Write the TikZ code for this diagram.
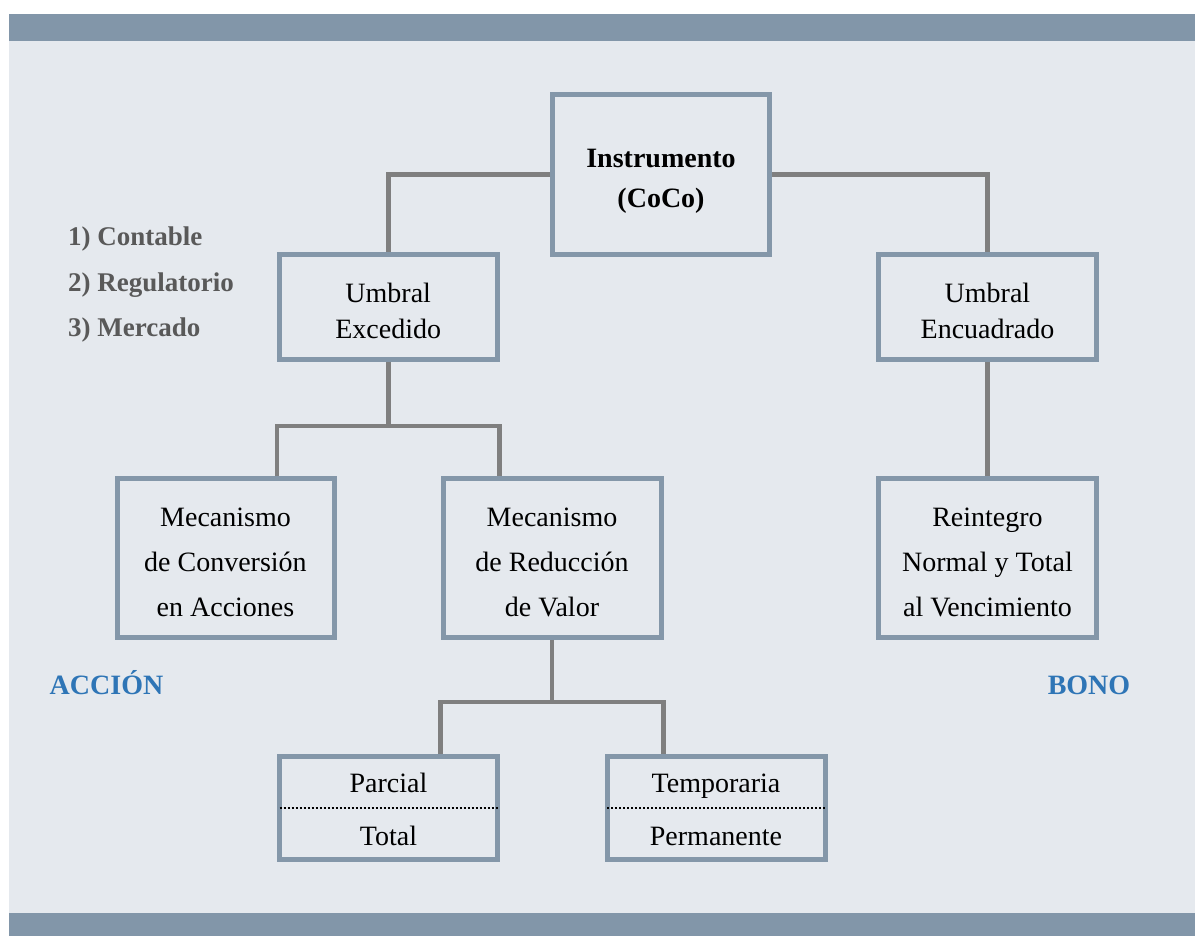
\documentclass[tikz,border=0pt]{standalone}
\usepackage{fontspec}
\setmainfont{Liberation Serif}
\definecolor{bgc}{RGB}{229,233,238}
\definecolor{barc}{RGB}{130,150,169}
\definecolor{borderc}{RGB}{132,151,169}
\definecolor{connc}{RGB}{127,127,127}
\definecolor{bluec}{RGB}{46,117,182}
\definecolor{grayc}{RGB}{89,89,89}
\begin{document}
\begin{tikzpicture}[x=1pt,y=-1pt,
  box/.style={draw=borderc, line width=5pt, fill=bgc, inner sep=0pt},
  boxtext/.style={inner sep=0pt, align=center, font=\fontsize{28}{45}\selectfont},
  conn/.style={draw=connc, line width=4.5pt},
  txt/.style={inner sep=0pt, font=\fontsize{28}{34}\selectfont},
  listlbl/.style={inner sep=0pt, anchor=base west, text=grayc, font=\fontsize{27}{32}\selectfont\bfseries},
  biglbl/.style={inner sep=0pt, anchor=base, text=bluec, font=\fontsize{28}{34}\selectfont\bfseries},
  sep/.style={draw=black, line width=2pt, dash pattern=on 2pt off 2pt}]
\useasboundingbox (0,0) rectangle (1195,936);
\fill[white] (0,0) rectangle (1195,936);
\fill[bgc] (9,14) rectangle (1195,936);
\fill[barc] (9,14) rectangle (1195,41);
\fill[barc] (9,913) rectangle (1195,936);

% boxes
\node[box, minimum width=217.5pt, minimum height=160pt] (inst) at (661,174.5) {};
\node[box, minimum width=217.5pt, minimum height=104.5pt] (ue) at (388.25,307) {};
\node[box, minimum width=217.5pt, minimum height=104.5pt] (uen) at (987.5,307) {};
\node[box, minimum width=217pt, minimum height=158.5pt] (mc) at (225.5,558) {};
\node[box, minimum width=218pt, minimum height=158.5pt] (mr) at (552,558) {};
\node[box, minimum width=217.5pt, minimum height=158.5pt] (re) at (987.5,558) {};
\node[box, minimum width=218pt, minimum height=103pt] (pt) at (388.5,808) {};
\node[box, minimum width=218pt, minimum height=103pt] (tp) at (716,808) {};

% box texts
\node[boxtext, font=\fontsize{28}{40}\selectfont\bfseries] (instT) at ([yshift=-7pt]inst.center) {Instrumento\\(CoCo)};
\node[boxtext, font=\fontsize{28}{36}\selectfont] (ueT) at ([yshift=-3.5pt]ue.center) {Umbral\\Excedido};
\node[boxtext, font=\fontsize{28}{36}\selectfont] (uenT) at ([yshift=-3.5pt]uen.center) {Umbral\\Encuadrado};
\node[boxtext] (mcT) at ([yshift=-4pt]mc.center) {Mecanismo\\de Conversión\\en Acciones};
\node[boxtext] (mrT) at ([yshift=-4pt]mr.center) {Mecanismo\\de Reducción\\de Valor};
\node[boxtext] (reT) at ([yshift=-4pt]re.center) {Reintegro\\Normal y Total\\al Vencimiento};

% split lines and texts of bottom boxes
\draw[sep] ([xshift=2.5pt]pt.west) -- ([xshift=-2.5pt]pt.east);
\draw[sep] ([xshift=2.5pt]tp.west) -- ([xshift=-2.5pt]tp.east);
\node[txt, anchor=base] (ptA) at (388.5,792) {Parcial};
\node[txt, anchor=base] (ptB) at (388.5,845) {Total};
\node[txt, anchor=base] (tpA) at (716,792) {Temporaria};
\node[txt, anchor=base] (tpB) at (716,845) {Permanente};

% connectors
\coordinate (j1) at (388.25,426);
\coordinate (j2) at (552,702);
\draw[conn] (inst.west) -| (ue.north);
\draw[conn] (inst.east) -| (uen.north);
\draw[conn] (ue.south) -- (j1);
\draw[conn] (mc.north -| ue.west) -- (ue.west |- j1) -- (ue.east |- j1) -- (mr.north -| ue.east);
\draw[conn] (uen.south) -- (re.north);
\draw[conn] (mr.south) -- (j2);
\draw[conn] (pt.north -| mr.west) -- (mr.west |- j2) -- (mr.east |- j2) -- (tp.north -| mr.east);

% side labels
\node[listlbl] (l1) at (68,246) {1) Contable};
\node[listlbl] (l2) at (68,291) {2) Regulatorio};
\node[listlbl] (l3) at (68,336) {3) Mercado};
\node[biglbl] (accion) at (106.5,694) {ACCIÓN};
\node[biglbl] (bono) at (1089,694) {BONO};
\end{tikzpicture}
\end{document}
